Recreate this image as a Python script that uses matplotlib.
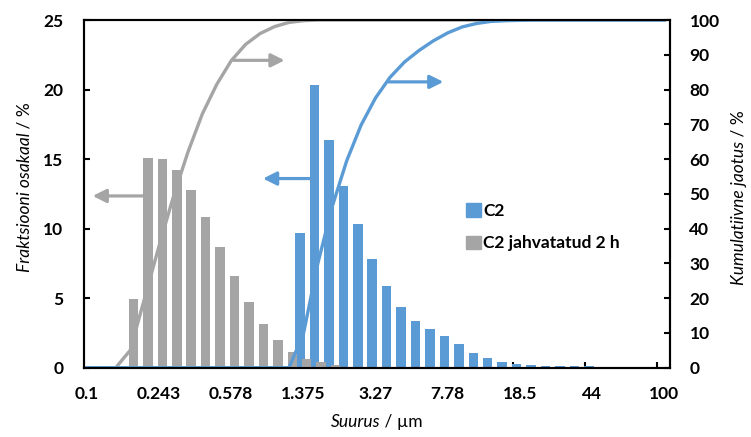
"""
Osakeste suuruse jaotus: C2 ja C2 jahvatatud 2 h (fraktsioonid + kumulatiivne).
"""

import numpy as np
import matplotlib
matplotlib.use("Agg")
import matplotlib.pyplot as plt
from matplotlib.patches import Patch

BLUE = "#5B9BD5"
GRAY = "#A5A5A5"

# 41 size classes, every fifth one labelled
size_labels = ["0.1", "0.243", "0.578", "1.375", "3.27", "7.78", "18.5", "44", "100"]
n_classes = 41

# fraction per class, %
c2_frac = [0, 0, 0, 0, 0, 0, 0, 0, 0, 0,
           0, 0, 0, 0, 0, 9.7, 20.3, 16.4, 13.1, 10.3,
           7.85, 5.9, 4.35, 3.35, 2.8, 2.3, 1.7, 1.07, 0.7, 0.38,
           0.3, 0.16, 0.14, 0.12, 0.12, 0.1, 0.08, 0, 0, 0, 0]
c2_milled_frac = [0, 0, 0, 4.95, 15.1, 15.0, 14.25, 12.8, 10.85, 8.7,
                  6.6, 4.75, 3.15, 2.0, 1.15, 0.62, 0.38, 0.2, 0, 0,
                  0, 0, 0, 0, 0, 0, 0, 0, 0, 0,
                  0, 0, 0, 0, 0, 0, 0, 0, 0, 0, 0]

# cumulative distribution, %
c2_cum = [0, 0, 0, 0, 0, 0, 0, 0, 0, 0,
          0, 0, 0, 0, 0, 9.7, 30.0, 46.4, 59.5, 69.8,
          77.6, 83.5, 87.9, 91.2, 94.0, 96.3, 98.0, 99.0, 99.6, 99.8,
          99.9, 100, 100, 100, 100, 100, 100, 100, 100, 100, 100]
c2_milled_cum = [0, 0, 0, 5.0, 20.0, 35.0, 49.3, 62.0, 73.0, 81.5,
                 88.3, 93.0, 96.1, 98.1, 99.3, 99.8, 100, 100, 100, 100,
                 100, 100, 100, 100, 100, 100, 100, 100, 100, 100,
                 100, 100, 100, 100, 100, 100, 100, 100, 100, 100, 100]

# arrows telling which axis a curve belongs to: (tail x, tail y, head x, head y) on left axis
arrows = [((4.05, 12.35), (0.4, 12.35), GRAY),
          ((10.15, 22.1), (13.7, 22.1), GRAY),
          ((15.45, 13.6), (12.2, 13.6), BLUE),
          ((20.9, 20.55), (24.7, 20.55), BLUE)]


def two_part_label(fig, x, y, first, second, vertical=False, size=12.5):
    """Italic quantity + upright unit, centred on (x, y) in figure pixels."""
    W, H = fig.bbox.width, fig.bbox.height
    rot = 90 if vertical else 0
    t1 = fig.text(0, 0, first, style="italic", rotation=rot, fontsize=size)
    t2 = fig.text(0, 0, second, rotation=rot, fontsize=size)
    r = fig.canvas.get_renderer()
    e1, e2 = t1.get_window_extent(r), t2.get_window_extent(r)
    if vertical:
        y0 = y - (e1.height + e2.height) / 2
        for t, yy in ((t1, y0), (t2, y0 + e1.height)):
            t.set_position((x / W, yy / H))
            t.set_ha("center"); t.set_va("bottom")
    else:
        x0 = x - (e1.width + e2.width) / 2
        for t, xx in ((t1, x0), (t2, x0 + e1.width)):
            t.set_position((xx / W, y / H))
            t.set_ha("left"); t.set_va("baseline")


plt.rcParams["font.family"] = ["Lato", "DejaVu Sans"]

fig = plt.figure(figsize=(7.51, 4.37), dpi=100)
ax = fig.add_axes([84 / 751, 69.3 / 437, 586 / 751, 347.7 / 437])
ax2 = ax.twinx()

pos = np.arange(n_classes)
ax.bar(pos - 0.23, c2_frac, width=0.66, color=BLUE, label="C2", zorder=2)
ax.bar(pos + 0.23, c2_milled_frac, width=0.66, color=GRAY, label="C2 jahvatatud 2 h", zorder=3)

ax2.plot(pos, c2_milled_cum, color=GRAY, lw=2.4, solid_joinstyle="round")
ax2.plot(pos, c2_cum, color=BLUE, lw=2.4, solid_joinstyle="round")

for tail, head, col in arrows:
    ax.annotate("", xy=head, xytext=tail,
                arrowprops=dict(arrowstyle="-|>", color=col, lw=2.3,
                                mutation_scale=20, shrinkA=0, shrinkB=0),
                zorder=5)

ax.set_xlim(-0.2, 40.4)
ax.set_ylim(0, 25)
ax2.set_ylim(0, 100)

# tick marks between classes, labels centred on classes
ax.set_xticks(np.arange(4.5, 40, 5))
ax.set_xticklabels([])
ax.set_xticks(np.arange(0, 41, 5), size_labels, minor=True)
ax.tick_params(axis="x", which="major", direction="in", length=4, width=1.5)
ax.tick_params(axis="x", which="minor", length=0, pad=13)
ax.set_yticks(np.arange(0, 26, 5))
ax.tick_params(axis="y", direction="in", length=4, width=1.5, pad=15)
ax2.set_yticks(np.arange(0, 101, 10))
ax2.tick_params(axis="y", direction="in", length=4, width=1.5, pad=14)

for a in (ax, ax2):
    for lab in a.get_xticklabels(which="both") + a.get_yticklabels():
        lab.set_fontweight("bold")
        lab.set_fontsize(12.5)
    for s in a.spines.values():
        s.set_linewidth(1.5)
        s.set_color("black")

leg = ax.legend(handles=[Patch(color=BLUE, label="C2"),
                         Patch(color=GRAY, label="C2 jahvatatud 2 h")],
                loc="upper left", bbox_to_anchor=(466 / 751, 1 - 203 / 437),
                bbox_transform=fig.transFigure, frameon=False, borderpad=0,
                borderaxespad=0, handlelength=0.85, handleheight=0.85,
                handletextpad=0.15, labelspacing=0.95,
                prop=dict(weight="bold", size=12.5))

two_part_label(fig, 25, 437 - 187, "Fraktsiooni osakaal", " / %", vertical=True)
two_part_label(fig, 739, 437 - 198, "Kumulatiivne jaotus", " / %", vertical=True)
two_part_label(fig, 377, 437 - 427, "Suurus", " / µm")

fig.savefig("out.png", dpi=100)
